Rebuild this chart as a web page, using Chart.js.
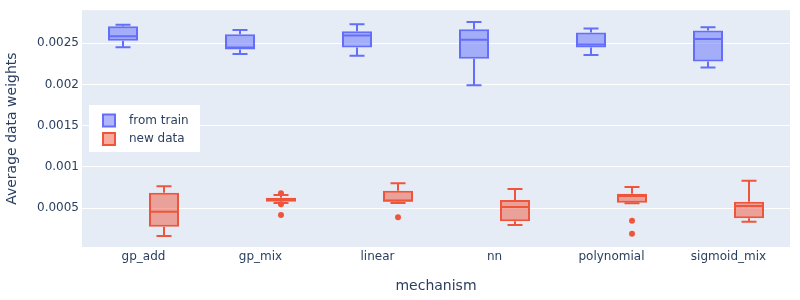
<!DOCTYPE html>
<html>
<head>
<meta charset="utf-8">
<script src="https://cdn.jsdelivr.net/npm/chart.js@4"></script>
<style>
  html, body { margin: 0; padding: 0; background: #fff; }
  #wrap { width: 800px; height: 300px; }
</style>
</head>
<body>
<div id="wrap"><canvas id="c" width="800" height="300"></canvas></div>
<script>
const categories = ['gp_add', 'gp_mix', 'linear', 'nn', 'polynomial', 'sigmoid_mix'];

const trainLower  = [0.002452, 0.00237,  0.002346, 0.00199,  0.002355, 0.002205];
const trainQ1     = [0.002528, 0.002423, 0.002448, 0.00231,  0.002448, 0.002278];
const trainMedian = [0.002585, 0.002448, 0.002593, 0.00254,  0.002484, 0.002552];
const trainQ3     = [0.002706, 0.002609, 0.002645, 0.00267,  0.00263,  0.002653];
const trainUpper  = [0.002722, 0.002661, 0.00273,  0.002758, 0.002678, 0.002694];
const trainOutliers = [[], [], [], [], [], []];

const newLower  = [0.000161, 0.000562, 0.00056,  0.000294, 0.000558, 0.000334];
const newQ1     = [0.000273, 0.000575, 0.000576, 0.000339, 0.000563, 0.000375];
const newMedian = [0.000455, 0.0006,   0.00059,  0.000512, 0.000645, 0.000524];
const newQ3     = [0.000685, 0.000625, 0.00071,  0.000597, 0.000672, 0.000576];
const newUpper  = [0.000763, 0.000658, 0.0008,   0.00073,  0.000755, 0.00083];
const newOutliers = [[], [0.00068, 0.000545, 0.000415], [0.000387], [], [0.000346, 0.000188], []];

const yTicks = [0.0005, 0.001, 0.0015, 0.002, 0.0025];
const yTickLabels = ['0.0005', '0.001', '0.0015', '0.002', '0.0025'];

const seriesNames = ['from train', 'new data'];
const seriesColors = ['#636efa', '#EF553B'];
const seriesFills = ['rgba(99,110,250,0.5)', 'rgba(239,85,59,0.5)'];

const FONT = '"DejaVu Sans", Verdana, sans-serif';
const TEXT = '#2a3f5f';

const stats = [
  { lower: trainLower, q1: trainQ1, median: trainMedian, q3: trainQ3, upper: trainUpper, outliers: trainOutliers },
  { lower: newLower, q1: newQ1, median: newMedian, q3: newQ3, upper: newUpper, outliers: newOutliers }
];

const bgPlugin = {
  id: 'plotBg',
  beforeDraw(chart) {
    const { ctx, chartArea: a } = chart;
    ctx.save();
    ctx.fillStyle = '#E5ECF6';
    ctx.fillRect(a.left, a.top, a.right - a.left, a.bottom - a.top);
    ctx.restore();
  }
};

const boxPlugin = {
  id: 'boxExtras',
  afterDatasetsDraw(chart) {
    const ctx = chart.ctx;
    const yScale = chart.scales.y;
    chart.data.datasets.forEach((ds, d) => {
      const meta = chart.getDatasetMeta(d);
      const s = stats[d];
      const color = seriesColors[d];
      meta.data.forEach((bar, i) => {
        const x = bar.x;
        const w = bar.width;
        const yMed = yScale.getPixelForValue(s.median[i]);
        const yQ1 = yScale.getPixelForValue(s.q1[i]);
        const yQ3 = yScale.getPixelForValue(s.q3[i]);
        const yLo = yScale.getPixelForValue(s.lower[i]);
        const yHi = yScale.getPixelForValue(s.upper[i]);
        ctx.save();
        ctx.strokeStyle = color;
        ctx.lineWidth = 2;
        ctx.beginPath();
        ctx.moveTo(x - w / 2, yMed); ctx.lineTo(x + w / 2, yMed);
        ctx.moveTo(x, yQ3); ctx.lineTo(x, yHi);
        ctx.moveTo(x, yQ1); ctx.lineTo(x, yLo);
        ctx.moveTo(x - w / 4, yHi); ctx.lineTo(x + w / 4, yHi);
        ctx.moveTo(x - w / 4, yLo); ctx.lineTo(x + w / 4, yLo);
        ctx.stroke();
        ctx.fillStyle = color;
        s.outliers[i].forEach(v => {
          const yy = yScale.getPixelForValue(v);
          ctx.beginPath();
          ctx.arc(x, yy, 3, 0, Math.PI * 2);
          ctx.fill();
        });
        ctx.restore();
      });
    });
  }
};

const legendPlugin = {
  id: 'insideLegend',
  afterDraw(chart) {
    const ctx = chart.ctx;
    ctx.save();
    ctx.fillStyle = '#ffffff';
    ctx.fillRect(89, 105, 111, 47);
    seriesNames.forEach((name, k) => {
      const cy = 120.5 + k * 18.5;
      ctx.fillStyle = seriesFills[k];
      ctx.fillRect(103, cy - 6, 12, 12);
      ctx.strokeStyle = seriesColors[k];
      ctx.lineWidth = 2;
      ctx.strokeRect(103, cy - 6, 12, 12);
      ctx.fillStyle = TEXT;
      ctx.font = '12px ' + FONT;
      ctx.textBaseline = 'middle';
      ctx.textAlign = 'left';
      ctx.fillText(name, 129, cy);
    });
    ctx.restore();
  }
};

const datasets = stats.map((s, d) => ({
  label: seriesNames[d],
  data: categories.map((c, i) => ({ x: i, y: [s.q1[i], s.q3[i]] })),
  backgroundColor: seriesFills[d],
  borderColor: seriesColors[d],
  borderWidth: 2,
  borderSkipped: false,
  categoryPercentage: 0.7009,
  barPercentage: 0.7317
}));

new Chart(document.getElementById('c'), {
  type: 'bar',
  data: { datasets },
  options: {
    responsive: false,
    animation: false,
    devicePixelRatio: 1,
    layout: { padding: { top: 10, right: 10, left: 0, bottom: 0 } },
    plugins: { legend: { display: false }, tooltip: { enabled: false } },
    scales: {
      x: {
        type: 'linear',
        min: -0.5256,
        max: 5.5256,
        offset: false,
        grid: { display: false, drawTicks: false },
        border: { display: false },
        afterBuildTicks: (s) => { s.ticks = categories.map((c, i) => ({ value: i })); },
        afterFit: (s) => { s.height = 53; },
        ticks: {
          autoSkip: false, maxRotation: 0, minRotation: 0, padding: 3,
          color: TEXT, font: { family: FONT, size: 12 },
          callback: (v, i) => categories[i]
        },
        title: {
          display: true, text: 'mechanism', color: TEXT,
          font: { family: FONT, size: 14 }, padding: { top: 0, bottom: 5 }
        }
      },
      y: {
        type: 'linear',
        min: 0.000027,
        max: 0.0029,
        grid: { color: '#ffffff', lineWidth: 1, drawTicks: false },
        border: { display: false },
        afterBuildTicks: (s) => { s.ticks = yTicks.map(v => ({ value: v })); },
        afterFit: (s) => { s.width = 82; },
        ticks: {
          padding: 3, color: TEXT, font: { family: FONT, size: 12 },
          callback: (v, i) => yTickLabels[i]
        },
        title: {
          display: true, text: 'Average data weights', color: TEXT,
          font: { family: FONT, size: 14 }, padding: { top: 4, bottom: 0 }
        }
      }
    }
  },
  plugins: [bgPlugin, boxPlugin, legendPlugin]
});
</script>
</body>
</html>
